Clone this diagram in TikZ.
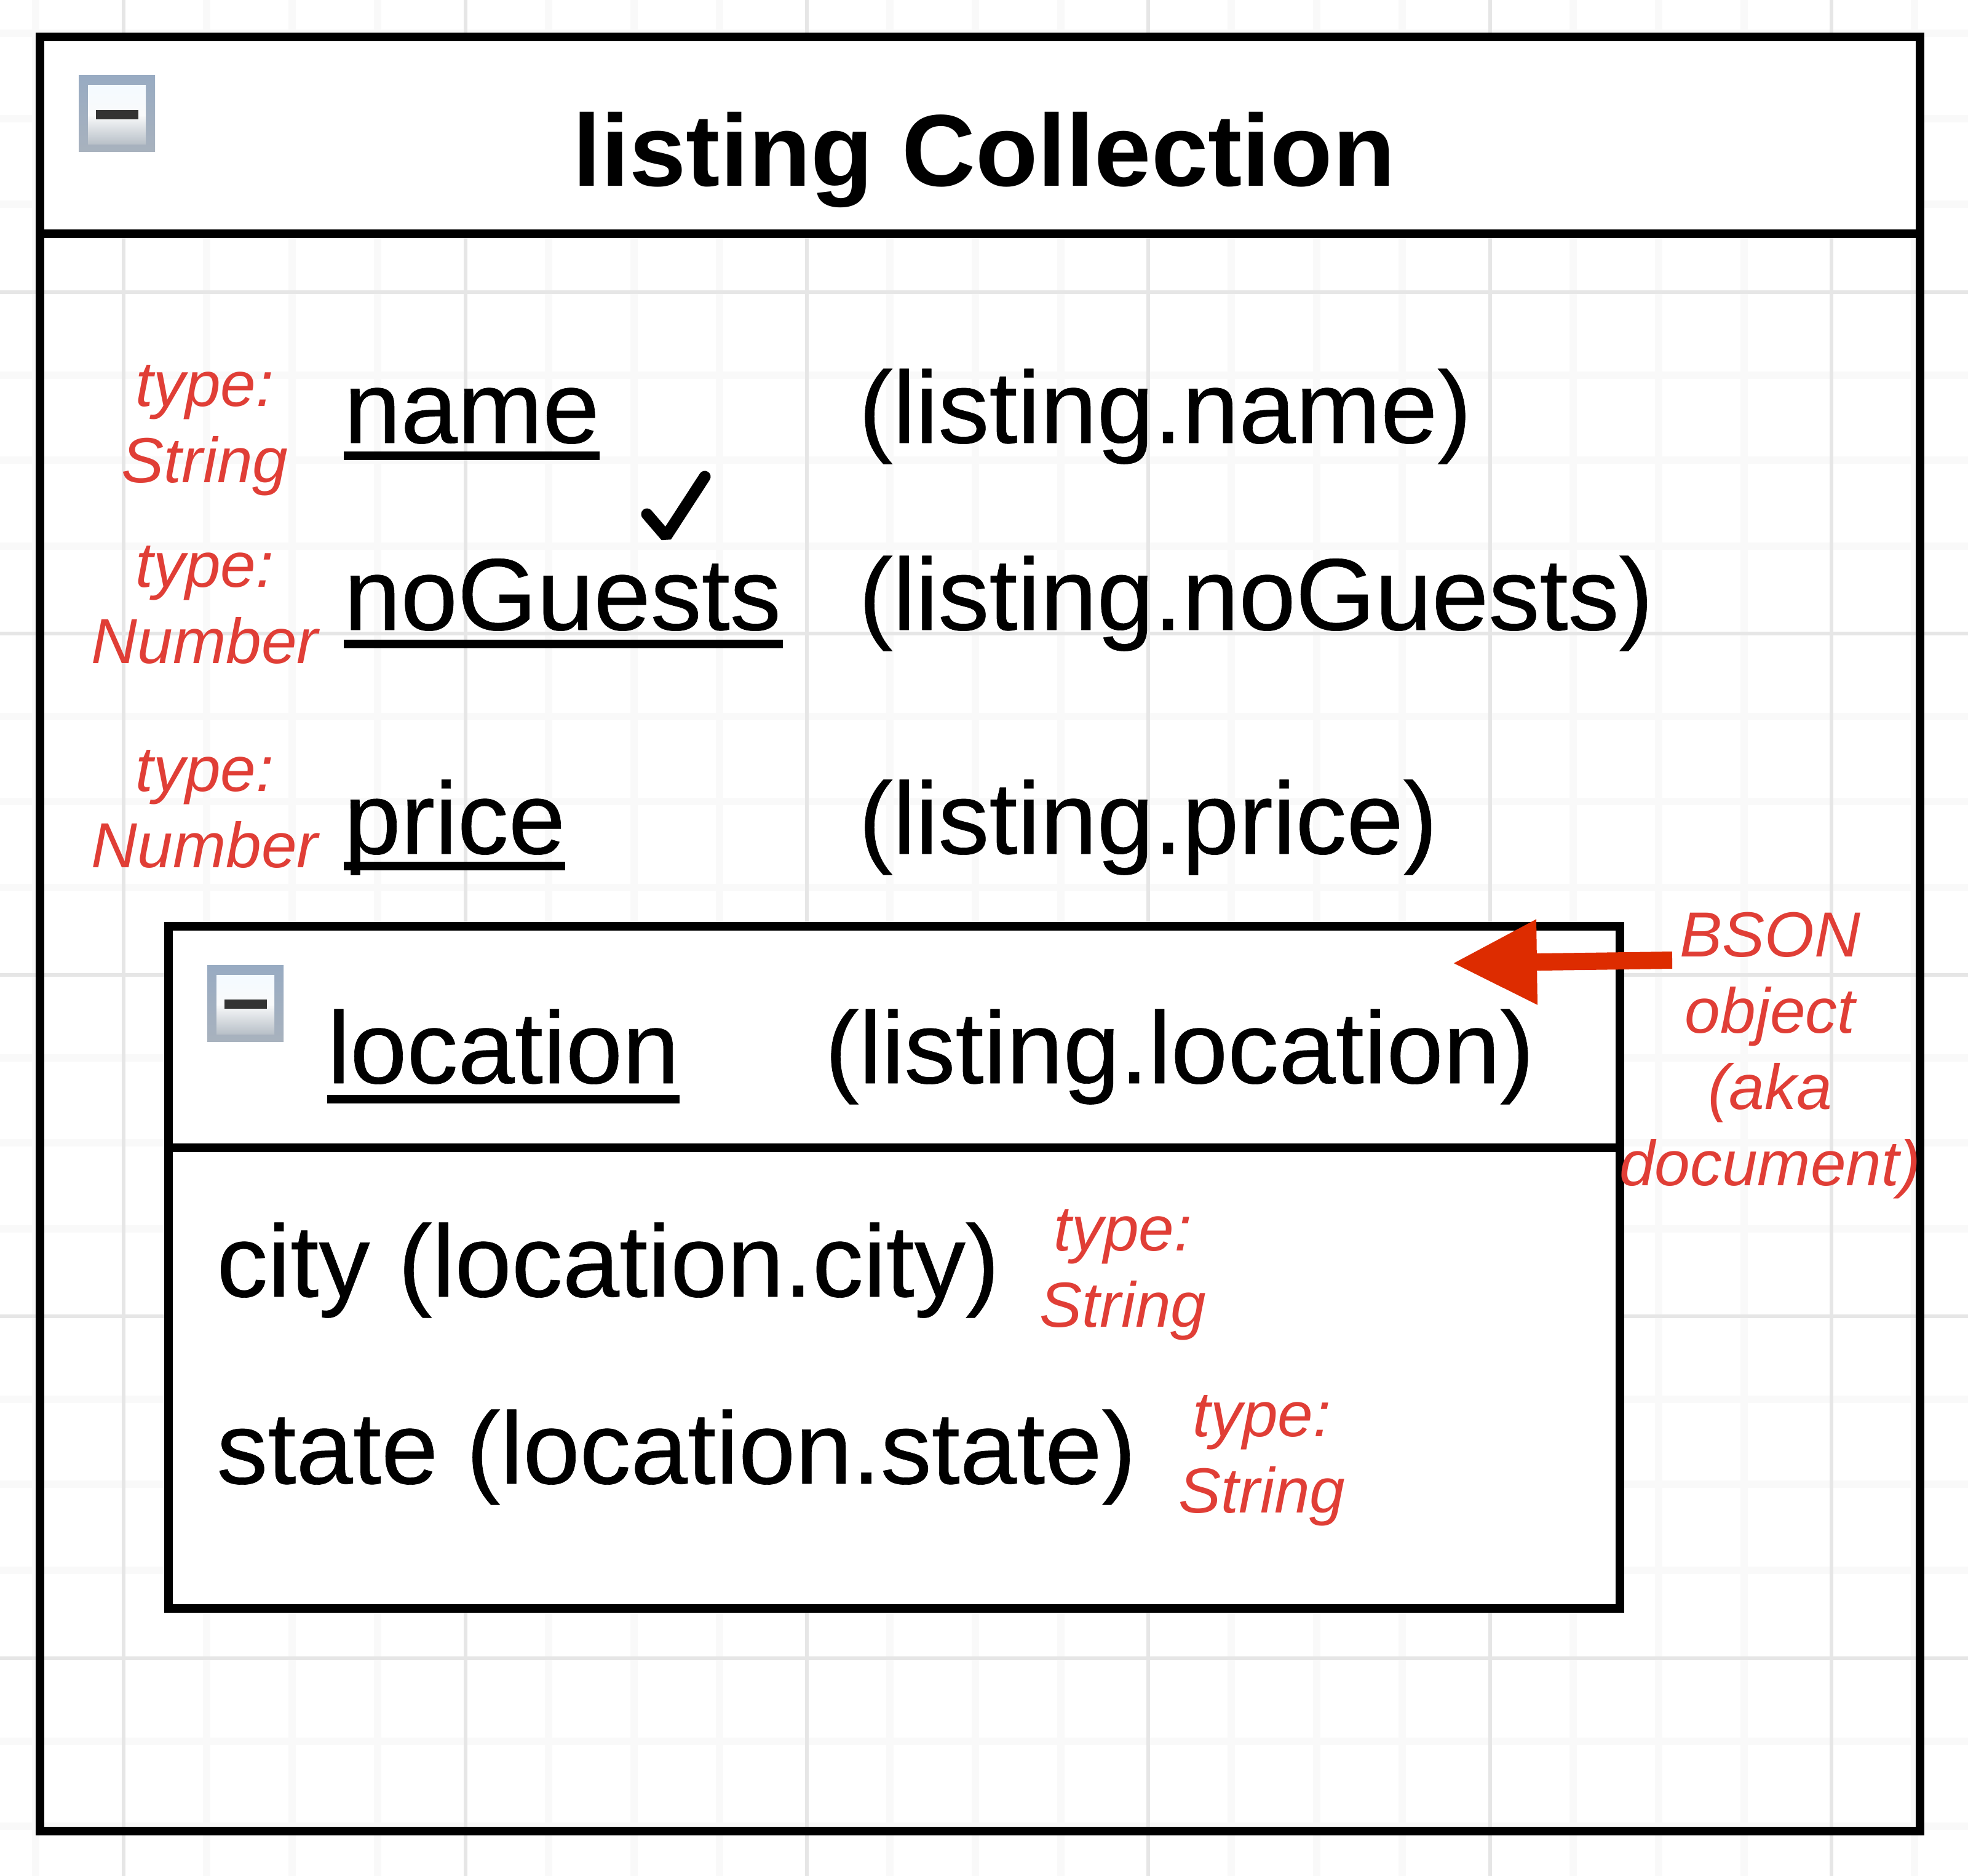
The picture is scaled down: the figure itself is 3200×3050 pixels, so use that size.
\documentclass[tikz,border=0pt]{standalone}
\usepackage{fontspec}
\setmainfont{Liberation Sans}
\newfontfamily\attrfont[FakeBold=0.4]{Liberation Sans}
\usetikzlibrary{arrows.meta}
\definecolor{gridmajor}{HTML}{E6E6E6}
\definecolor{gridminor}{HTML}{F9F9F9}
\definecolor{notered}{HTML}{E03E36}
\definecolor{arrowred}{HTML}{DD2C00}
\definecolor{iconedgetop}{HTML}{98ABC2}
\definecolor{iconedgelow}{HTML}{A8B2BE}
\definecolor{icontop}{HTML}{F4FAFF}
\definecolor{iconlow}{HTML}{B8C0C8}
\tikzset{
  x=0.5pt,y=-0.5pt,
  minorline/.style={draw=gridminor,line width=6pt},
  majorline/.style={draw=gridmajor,line width=3pt},
  box/.style={draw=black,line width=6.7pt,inner sep=0pt,outer sep=0pt,anchor=north west},
  divider/.style={draw=black,line width=6.7pt},
  attr/.style={inner sep=0pt,anchor=base west,font=\fontsize{83}{90}\attrfont\selectfont,text=black},
  title/.style={inner sep=0pt,anchor=base,font=\fontsize{83}{90}\bfseries\selectfont},
  note/.style={inner sep=0pt,anchor=base,align=center,text=notered,font=\fontsize{51.8}{62}\itshape\selectfont},
  uline/.style={draw=black,line width=6.8pt},
  bsonarrow/.style={draw=arrowred,line width=14pt,-{Triangle[length=68.5pt,width=65.5pt,fill=arrowred]}},
  icon/.pic={
    \path[top color=iconedgetop,bottom color=iconedgelow] (0,0) rectangle (124,124);
    \path[top color=icontop,bottom color=iconlow,middle color=white!92!iconlow] (15,16) rectangle (109,112);
    \path[fill=black!80] (28,56) rectangle (97,71);
  }
}
\begin{document}
\begin{tikzpicture}
\useasboundingbox (0,0) rectangle (3200,3050);
\fill[white] (0,0) rectangle (3200,3050);
% grid
\foreach \g in {58,336,475,614,892,1031,1170,1447,1586,1725,2002,2141,2280,2558,2697,2836,3113}
  \draw[minorline] (\g,0) -- (\g,3050);
\foreach \g in {54,193,332,610,748,888,1165,1303,1443,1720,1858,1998,2275,2413,2553,2831,2969}
  \draw[minorline] (0,\g) -- (3200,\g);
\foreach \g in {201,757,1312,1867,2423,2978}
  \draw[majorline] (\g,0) -- (\g,3050);
\foreach \g in {475,1030,1585,2140,2696}
  \draw[majorline] (0,\g) -- (3200,\g);
% outer box
\fill[white] (65,60) rectangle (3122,380);
\node[box,minimum width=1528.5pt,minimum height=1458.5pt] (outer) at (65,60) {};
\coordinate (outerL) at (65,380);
\coordinate (outerR) at (3122,380);
\draw[divider] (outerL) -- (outerR);
\pic at (128,123) {icon};
\node[title] (title) at (1600,303) {listing Collection};
% attributes
\node[attr] (name) at (559,720) {name};
\node[attr] (lname) at (1396,720) {(listing.name)};
\node[attr] (guests) at (559,1024) {noGuests};
\node[attr] (lguests) at (1396,1024) {(listing.noGuests)};
\node[attr] (price) at (559,1388) {price};
\node[attr] (lprice) at (1396,1388) {(listing.price)};
\coordinate (u1a) at (559,741);
\coordinate (u1b) at (975,741);
\coordinate (u2a) at (559,1047);
\coordinate (u2b) at (1273,1047);
\coordinate (u3a) at (559,1408);
\coordinate (u3b) at (919,1408);
\draw[uline] (u1a) -- (u1b);
\draw[uline] (u2a) -- (u2b);
\draw[uline] (u3a) -- (u3b);
% check
\draw[black,line width=9.5pt,line cap=round,line join=bevel] (1052,836) -- (1083,872) -- (1146,775);
% notes
\node[note] (n1) at (333,784) {type:\\String};
\node[note] (n2) at (333,1078) {type:\\Number};
\node[note] (n3) at (333,1410) {type:\\Number};
% inner box
\fill[white] (274,1506) rectangle (2634,2615);
\node[box,minimum width=1180pt,minimum height=554.5pt] (inner) at (274,1506) {};
\coordinate (innerL) at (274,1866);
\coordinate (innerR) at (2634,1866);
\draw[divider] (innerL) -- (innerR);
\pic at (337,1569) {icon};
\node[attr] (loc) at (532,1761) {location};
\node[attr] (lloc) at (1341,1761) {(listing.location)};
\coordinate (u4a) at (532,1787);
\coordinate (u4b) at (1105,1787);
\draw[uline] (u4a) -- (u4b);
\node[attr] (city) at (352,2108) {city (location.city)};
\node[attr] (state) at (352,2412) {state (location.state)};
\node[note] (n4) at (1826,2157) {type:\\String};
\node[note] (n5) at (2052,2459) {type:\\String};
\node[note] (bson) at (2878,1927) {BSON\\object\\(aka\\document)};
% arrow
\coordinate (arrowstart) at (2719,1561);
\coordinate (arrowend) at (2362,1566);
\draw[bsonarrow] (arrowstart) -- (arrowend);
\end{tikzpicture}
\end{document}
